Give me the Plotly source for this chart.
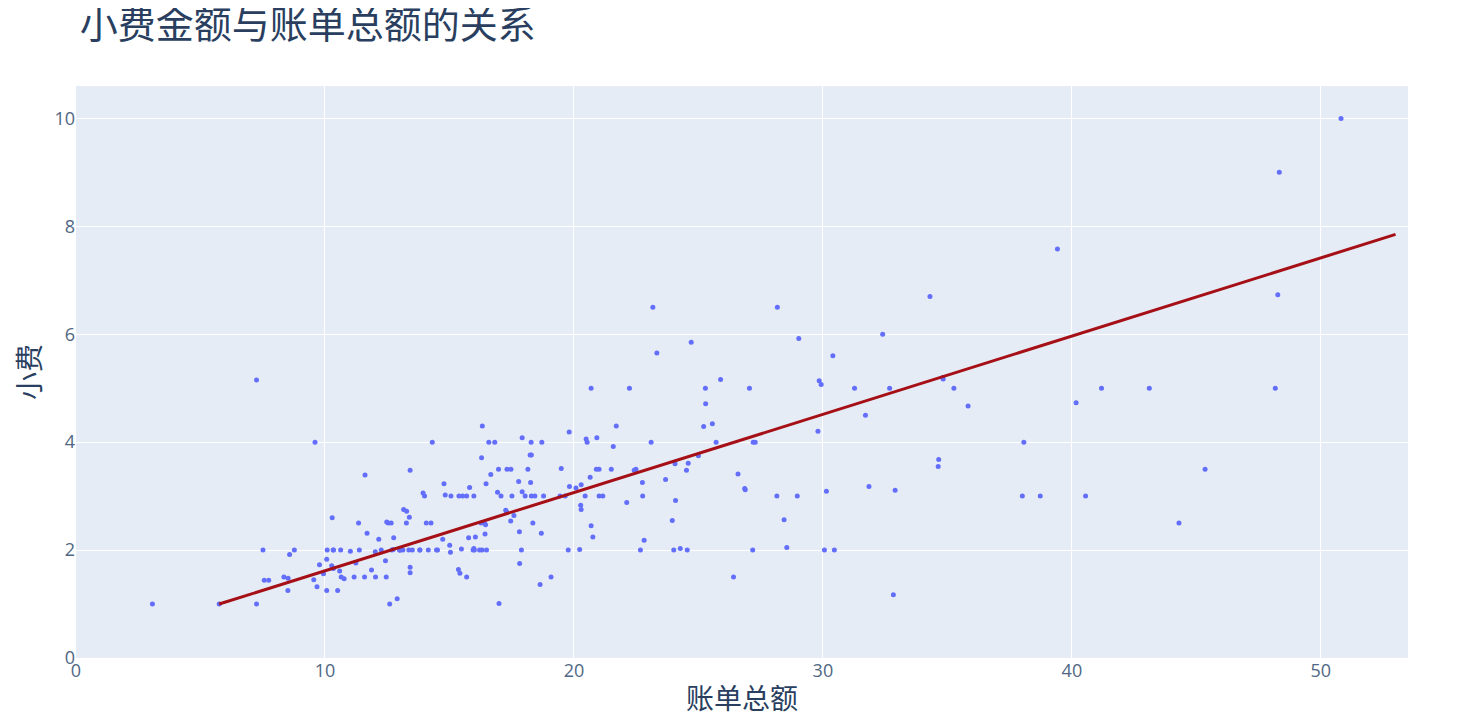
import plotly.graph_objects as go

total_bill = [16.99,10.34,21.01,23.68,24.59,25.29,8.77,26.88,15.04,14.78,10.27,35.26,15.42,18.43,14.83,21.58,10.33,16.29,16.97,20.65,17.92,20.29,15.77,39.42,19.82,17.81,13.37,12.69,21.7,19.65,9.55,18.35,15.06,20.69,17.78,24.06,16.31,16.93,18.69,31.27,16.04,17.46,13.94,9.68,30.4,18.29,22.23,32.4,28.55,18.04,12.54,10.29,34.81,9.94,25.56,19.49,38.01,26.41,11.24,48.27,20.29,13.81,11.02,18.29,17.59,20.08,16.45,3.07,20.23,15.01,12.02,17.07,26.86,25.28,14.73,10.51,17.92,27.2,22.76,17.29,19.44,16.66,10.07,32.68,15.98,34.83,13.03,18.28,24.71,21.16,28.97,22.49,5.75,16.32,22.75,40.17,27.28,12.03,21.01,12.46,11.35,15.38,44.3,22.42,20.92,15.36,20.49,25.21,18.24,14.31,14.0,7.25,38.07,23.95,25.71,17.31,29.93,10.65,12.43,24.08,11.69,13.42,14.26,15.95,12.48,29.8,8.52,14.52,11.38,22.82,19.08,20.27,11.17,12.26,18.26,8.51,10.33,14.15,16.0,13.16,17.47,34.3,41.19,27.05,16.43,8.35,18.64,11.87,9.78,7.51,14.07,13.13,17.26,24.55,19.77,29.85,48.17,25.0,13.39,16.49,21.5,12.66,16.21,13.81,17.51,24.52,20.76,31.71,10.59,10.63,50.81,15.81,7.25,31.85,16.82,32.9,17.89,14.48,9.6,34.63,34.65,23.33,45.35,23.17,40.55,20.69,20.9,30.46,18.15,23.1,15.69,19.81,28.44,15.48,16.58,7.56,10.34,43.11,13.0,13.51,18.71,12.74,13.0,16.4,20.53,16.47,26.59,38.73,24.27,12.76,30.06,25.89,48.33,13.27,28.17,12.9,28.15,11.59,7.74,30.14,12.16,13.42,8.58,15.98,13.42,16.27,10.09,20.45,13.28,22.12,24.01,15.69,11.61,10.77,15.53,10.07,12.6,32.83,35.83,29.03,27.18,22.67,17.82,18.78]
tip = [1.01,1.66,3.5,3.31,3.61,4.71,2.0,3.12,1.96,3.23,1.71,5.0,1.57,3.0,3.02,3.92,1.67,3.71,3.5,3.35,4.08,2.75,2.23,7.58,3.18,2.34,2.0,2.0,4.3,3.0,1.45,2.5,3.0,2.45,3.27,3.6,2.0,3.07,2.31,5.0,2.24,2.54,3.06,1.32,5.6,3.0,5.0,6.0,2.05,3.0,2.5,2.6,5.2,1.56,4.34,3.51,3.0,1.5,1.76,6.73,3.21,2.0,1.98,3.76,2.64,3.15,2.47,1.0,2.01,2.09,1.97,3.0,3.14,5.0,2.2,1.25,3.08,4.0,3.0,2.71,3.0,3.4,1.83,5.0,2.03,5.17,2.0,4.0,5.85,3.0,3.0,3.5,1.0,4.3,3.25,4.73,4.0,1.5,3.0,1.5,2.5,3.0,2.5,3.48,4.08,1.64,4.06,4.29,3.76,4.0,3.0,1.0,4.0,2.55,4.0,3.5,5.07,1.5,1.8,2.92,2.31,1.68,2.5,2.0,2.52,4.2,1.48,2.0,2.0,2.18,1.5,2.83,1.5,2.0,3.25,1.25,2.0,2.0,2.0,2.75,3.5,6.7,5.0,5.0,2.3,1.5,1.36,1.63,1.73,2.0,2.5,2.0,2.74,2.0,2.0,5.14,5.0,3.75,2.61,2.0,3.5,2.5,2.0,2.0,3.0,3.48,2.24,4.5,1.61,2.0,10.0,3.16,5.15,3.18,4.0,3.11,2.0,2.0,4.0,3.55,3.68,5.65,3.5,6.5,3.0,5.0,3.5,2.0,3.5,4.0,1.5,4.19,2.56,2.02,4.0,1.44,2.0,5.0,2.0,2.0,4.0,2.01,2.0,2.5,4.0,3.23,3.41,3.0,2.03,2.23,2.0,5.16,9.0,2.5,6.5,1.1,3.0,1.5,1.44,3.09,2.2,3.48,1.92,3.0,1.58,2.5,2.0,3.0,2.72,2.88,2.0,3.0,3.39,1.47,3.0,1.25,1.0,1.17,4.67,5.92,2.0,2.0,1.75,3.0]
trend_x = [5.75, 53.0]
trend_y = [1.0, 7.85]

fig = go.Figure()
fig.add_trace(go.Scatter(x=total_bill, y=tip, mode="markers",
                         marker=dict(color="#636efa", size=5), showlegend=False))
fig.add_trace(go.Scatter(x=trend_x, y=trend_y, mode="lines",
                         line=dict(color="#a50f15", width=3), showlegend=False))
fig.update_layout(
    width=1463, height=720,
    font=dict(family="Noto Sans CJK SC", color="#2a3f5f"),
    title=dict(text="小费金额与账单总额的关系", x=0.049, xanchor="left",
               y=0.995, yanchor="top", font=dict(size=38)),
    plot_bgcolor="#e5ecf6", paper_bgcolor="white",
    margin=dict(l=68, r=63, t=78, b=70),
    xaxis=dict(title=dict(text="账单总额", font=dict(size=28), standoff=8), range=[0, 53.5],
               gridcolor="white", tickfont=dict(size=18, family="Open Sans", color="#506784"),
               zeroline=False, dtick=10),
    yaxis=dict(title=dict(text="小费", font=dict(size=28)), range=[0, 10.6],
               gridcolor="white", tickfont=dict(size=18, family="Open Sans", color="#506784"),
               zeroline=False, dtick=2),
)
fig.write_html("out.html")
